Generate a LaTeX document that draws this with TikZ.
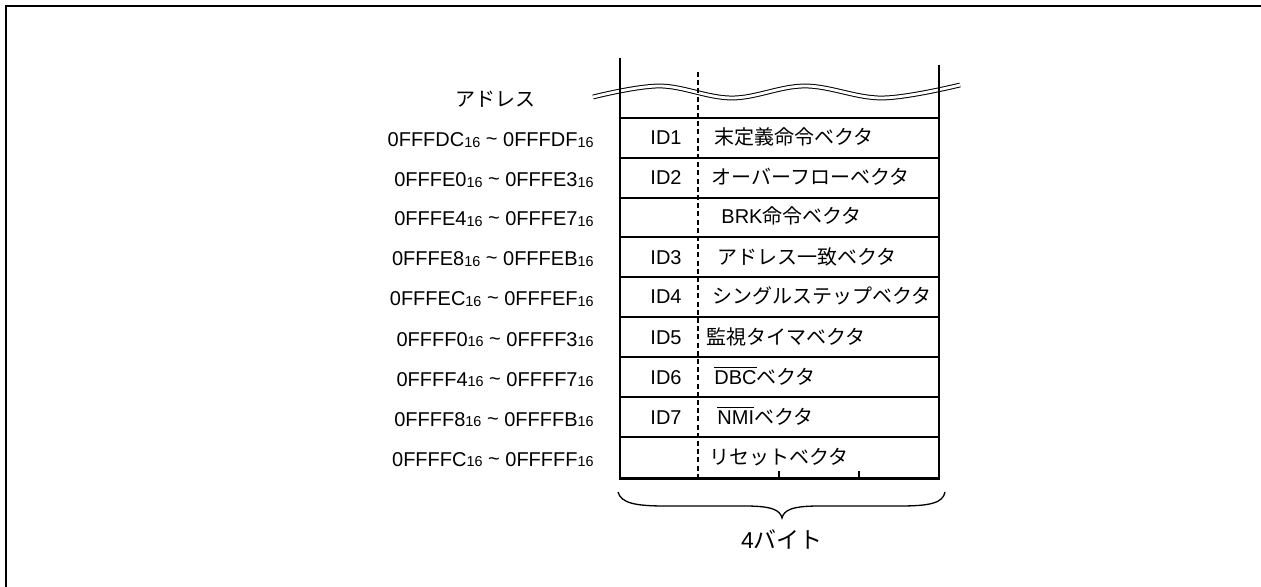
\documentclass[tikz,border=0pt]{standalone}
\usepackage{fontspec}
\setmainfont{Liberation Sans}
\newfontfamily\jp{Noto Sans CJK JP}
\newcommand\sxt{\raisebox{-0.2pt}{\fontsize{7.2}{7}\selectfont 16}}
\newcommand\addrr[2]{#1\sxt\ {\raisebox{0.5pt}{\textasciitilde}}\ #2\sxt}
\begin{document}
\begin{tikzpicture}[x=0.5pt,y=-0.5pt,
  addr/.style={anchor=base east,inner sep=0pt,font=\fontsize{10}{12}\selectfont},
  idl/.style={anchor=base,inner sep=0pt,font=\fontsize{10}{12}\selectfont},
  vec/.style={anchor=base west,inner sep=0pt,font=\fontsize{10}{12}\selectfont},
  thickline/.style={line width=1pt},
  vline/.style={line width=1.1pt}]
\useasboundingbox (0,0) rectangle (1261,587);
% frame
\draw[line width=1.25pt] (6,590) -- (6,6) -- (1265,6);
% wave
\draw[line width=0.5pt,double=white,double distance=1.4pt]
  plot[smooth,tension=0.6] coordinates {(593,97) (660,86) (732,98) (805,86) (882,98) (960,85)};
% verticals
\coordinate (LT) at (620,58); \coordinate (LB) at (620,479);
\coordinate (RT) at (939,65); \coordinate (RB) at (939,479);
\draw[vline] (LT) -- (LB);
\draw[vline] (RT) -- (RB);
\draw[line width=0.7pt,dash pattern=on 2.5pt off 1.6pt] (698,72) -- (698,478);
% horizontals
\draw[line width=0.55pt] (620,118) -- (939,118);
\foreach \yy in {158,198,237,277,317,357,397,437}
  \draw[thickline] (620,\yy) -- (939,\yy);
\draw[line width=1.4pt] (619,478.5) -- (940,478.5);
% ticks
\draw[line width=0.7pt] (779,471) -- (779,478);
\draw[line width=0.7pt] (859,471) -- (859,478);
% header
\node[idl] (hdr) at (495,107) {\jp アドレス};
% address labels
\node[addr] (a1) at (594,147) {\addrr{0FFFDC}{0FFFDF}};
\node[addr] (a2) at (594,187) {\addrr{0FFFE0}{0FFFE3}};
\node[addr] (a3) at (594,226) {\addrr{0FFFE4}{0FFFE7}};
\node[addr] (a4) at (594,266) {\addrr{0FFFE8}{0FFFEB}};
\node[addr] (a5) at (594,306) {\addrr{0FFFEC}{0FFFEF}};
\node[addr] (a6) at (594,346) {\addrr{0FFFF0}{0FFFF3}};
\node[addr] (a7) at (594,386) {\addrr{0FFFF4}{0FFFF7}};
\node[addr] (a8) at (594,426) {\addrr{0FFFF8}{0FFFFB}};
\node[addr] (a9) at (594,466) {\addrr{0FFFFC}{0FFFFF}};
% ID labels
\node[idl] (i1) at (666,145) {ID1};
\node[idl] (i2) at (666,185) {ID2};
\node[idl] (i3) at (666,264) {ID3};
\node[idl] (i4) at (666,304) {ID4};
\node[idl] (i5) at (666,344) {ID5};
\node[idl] (i6) at (666,384) {ID6};
\node[idl] (i7) at (666,424) {ID7};
% vector names
\node[vec] (v1) at (714,145) {\jp 末定義命令ベクタ};
\node[vec] (v2) at (711,185) {\jp オーバーフローベクタ};
\node[vec] (v3) at (721,224) {BRK{\jp 命令ベクタ}};
\node[vec] (v4) at (717,264) {\jp アドレス一致ベクタ};
\node[vec] (v5) at (712,304) {\jp シングルステップベクタ};
\node[vec] (v6) at (706,344) {\jp 監視タイマベクタ};
\node[vec] (v7) at (714,384) {$\overline{\mbox{DBC}}${\jp ベクタ}};
\node[vec] (v8) at (717,424) {$\overline{\mbox{NMI}}${\jp ベクタ}};
\node[vec] (v9) at (709,464) {\jp リセットベクタ};
% brace
\draw[line width=0.65pt] (618,492) .. controls (621,503) and (635,506) .. (665,506)
  -- (745,506) .. controls (772,506) and (780,510) .. (782,518)
  .. controls (784,510) and (792,506) .. (819,506)
  -- (900,506) .. controls (930,506) and (943,503) .. (945,492);
\node[idl,font=\fontsize{11.5}{13}\selectfont] (bytes) at (782,548) {4{\jp バイト}};
\end{tikzpicture}
\end{document}
